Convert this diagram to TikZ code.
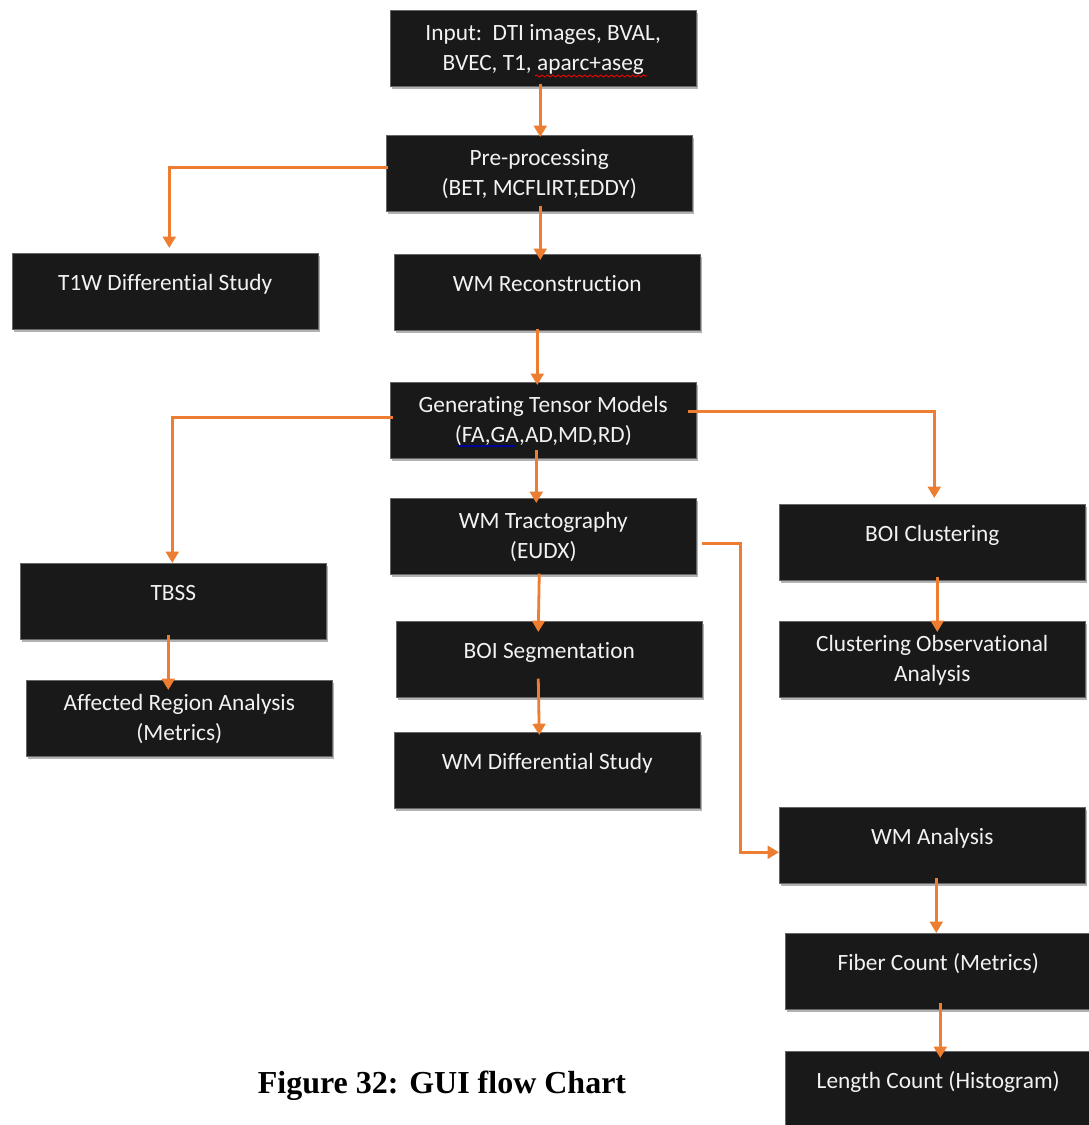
\documentclass[tikz,border=0pt]{standalone}
\usepackage{fontspec}
\newfontfamily\boxfont{Carlito}[Ligatures=NoCommon]
\newfontfamily\capfont{Liberation Serif}
\usetikzlibrary{arrows.meta,calc,shadows,decorations.pathmorphing}
\definecolor{boxfill}{HTML}{191919}
\definecolor{conncol}{HTML}{ED7D31}
\definecolor{boxtext}{HTML}{F2F2F2}
\tikzset{
  fbox/.style={draw=black!60, line width=0.4pt, fill=boxfill, text=boxtext,
    minimum width=229.5pt, minimum height=57pt, inner sep=0pt, anchor=north west,
    font=\boxfont\fontsize{17.5}{22.5}\selectfont, align=center,
    text height=34.5pt, text depth=0.8pt,
    drop shadow={shadow xshift=1.2pt, shadow yshift=-1.8pt, fill=black, opacity=0.3}},
  oneline/.style={text height=12pt, text depth=12.8pt},
  conn/.style={draw=conncol, line width=2.1pt,
    -{Triangle[width=9.5pt,length=8.5pt]}},
}
\begin{document}
\begin{tikzpicture}[x=0.75pt,y=-0.75pt]
\useasboundingbox (0,0) rectangle (1089,1125);

\node[fbox] (inp) at (390,10) {Input:\ \ DTI images, BVAL,\\BVEC, T1, aparc+aseg};
\node[fbox] (pre) at (386,135) {Pre-processing\\(BET, MCFLIRT,EDDY)};
\node[fbox,oneline] (t1w) at (12,253) {T1W Differential Study};
\node[fbox,oneline] (rec) at (394,254) {WM Reconstruction};
\node[fbox] (gen) at (390,382) {Generating Tensor Models\\(FA,GA,AD,MD,RD)};
\node[fbox] (tra) at (390,498) {WM Tractography\\(EUDX)};
\node[fbox,oneline] (boc) at (779,504) {BOI Clustering};
\node[fbox,oneline] (tbs) at (20,563) {TBSS};
\node[fbox,oneline] (bos) at (396,621) {BOI Segmentation};
\node[fbox] (cob) at (779,621) {Clustering Observational\\Analysis};
\node[fbox] (aff) at (26,680) {Affected Region Analysis\\(Metrics)};
\node[fbox,oneline] (wmd) at (394,732) {WM Differential Study};
\node[fbox,oneline] (wma) at (779,807) {WM Analysis};
\node[fbox,oneline] (fib) at (785,933) {Fiber Count (Metrics)};
\node[fbox,oneline] (len) at (785,1051) {Length Count (Histogram)};

\node[font=\capfont\bfseries\fontsize{24}{28}\selectfont, inner sep=0pt] (cap) at (442,1086) {Figure 32: GUI flow Chart};

% spell-check marks
\draw[red, line width=0.6pt, decorate, decoration={snake, amplitude=0.8pt, segment length=4pt}] (535,76) -- (647,76);
\draw[blue!60!black, line width=1.5pt] (458,446) -- (516,446);

% connectors
\draw[conn] ($(inp.south)+(-3,-3)$) -- ($(pre.north)+(1,2)$);
\draw[conn] ($(pre.west)+(2,-6)$) -| ($(t1w.north)+(4,-5)$);
\draw[conn] ($(pre.south)+(1,-6)$) -- ($(pre.south |- rec.north)+(1,6)$);
\draw[conn] ($(rec.south)+(-10,-2)$) -- ($(gen.north)+(-6,3)$);
\draw[conn] ($(gen.west)+(3,-3)$) -| ($(tbs.north)+(-1,0)$);
\draw[conn] ($(gen.east)+(-9,-9)$) -| ($(boc.north)+(2,-6)$);
\draw[conn] ($(gen.south)+(-7,-9)$) -- ($(tra.north)+(-7,5)$);
\draw[conn] ($(tra.east)+(5,7)$) -- ++(39,0) |- ($(wma.west)+(0,7)$);
\draw[conn] ($(tra.south)+(-4,-1)$) -- ($(bos.north)+(-11,11)$);
\draw[conn] ($(bos.south)+(-11,-19)$) -- ($(wmd.north)+(-8,3)$);
\draw[conn] ($(tbs.south)+(-5,-5)$) -- ($(aff.north)+(-11,10)$);
\draw[conn] ($(boc.south)+(5,-4)$) -- ($(cob.north)+(5,11)$);
\draw[conn] ($(wma.south)+(4,-6)$) -- ($(fib.north)+(-2,0)$);
\draw[conn] ($(fib.south)+(2,-7)$) -- ($(len.north)+(2,7)$);
\end{tikzpicture}
\end{document}
